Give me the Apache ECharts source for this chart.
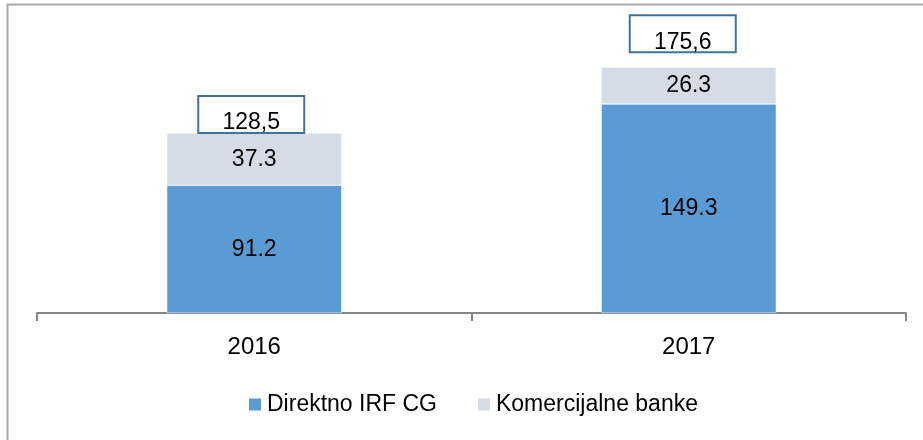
<!DOCTYPE html>
<html>
<head>
<meta charset="utf-8">
<script src="https://cdn.jsdelivr.net/npm/echarts@6/dist/echarts.min.js"></script>
<style>
html,body{margin:0;padding:0;background:#fff;}
#c{width:923px;height:440px;}
</style>
</head>
<body>
<div id="c"></div>
<script>
var categories = ['2016', '2017'];
var direktno = [91.2, 149.3];
var komercijalne = [37.3, 26.3];
var seriesNames = ['Direktno IRF CG', 'Komercijalne banke'];

var totals = categories.map(function (c, i) {
  return Math.round((direktno[i] + komercijalne[i]) * 10) / 10;
});

var FONT = 'Liberation Sans';
var chart = echarts.init(document.getElementById('c'), null, {renderer: 'canvas'});

// manual placement of the total text boxes (pixel shift from bar top)
var boxShift = [[-3, 0], [-6, -15]];

var option = {
  animation: false,
  backgroundColor: '#fff',
  textStyle: {fontFamily: FONT},
  grid: {left: 37, right: 17, top: 33, bottom: 127, containLabel: false},
  xAxis: {
    type: 'category',
    data: categories,
    axisLine: {lineStyle: {color: '#868686', width: 2}},
    axisTick: {show: true, length: 8, lineStyle: {color: '#868686', width: 2}},
    axisLabel: {fontFamily: FONT, fontSize: 24, color: '#000', margin: 22}
  },
  yAxis: {
    type: 'value', min: 0, max: 200, interval: 20,
    show: false, splitLine: {show: false}
  },
  legend: {
    left: 242, top: 388,
    itemWidth: 14, itemHeight: 14, itemGap: 39,
    icon: 'rect',
    textStyle: {fontFamily: FONT, fontSize: 23, color: '#000'},
    data: seriesNames
  },
  graphic: [{
    type: 'rect',
    shape: {x: 7.5, y: 4.5, width: 1000, height: 1000},
    style: {fill: 'none', stroke: '#A9A9A9', lineWidth: 2},
    silent: true, z: -1
  }],
  series: [
    {
      name: seriesNames[0], type: 'bar', stack: 'total', barWidth: 175,
      data: direktno,
      itemStyle: {color: '#5B9BD5', borderColor: '#fff', borderWidth: 0.5},
      label: {show: true, position: 'inside', fontFamily: FONT, fontSize: 23, color: '#000',
        formatter: function (p) { return p.value.toFixed(1); }}
    },
    {
      name: seriesNames[1], type: 'bar', stack: 'total', barWidth: 175,
      data: komercijalne,
      itemStyle: {color: '#D6DCE5', borderColor: '#fff', borderWidth: 0.5},
      label: {show: true, position: 'inside', fontFamily: FONT, fontSize: 23, color: '#000',
        formatter: function (p) { return p.value.toFixed(1); }}
    },
    {
      name: 'total', type: 'custom', silent: true, z: 10, clip: false,
      data: totals.map(function (t, i) { return [i, t]; }),
      renderItem: function (params, api) {
        var i = params.dataIndex;
        var pt = api.coord([api.value(0), api.value(1)]);
        var cx = pt[0] + boxShift[i][0];
        var bottom = pt[1] + boxShift[i][1];
        var w = 106, h = 37;
        return {
          type: 'group',
          children: [
            {
              type: 'rect',
              shape: {x: cx - w / 2, y: bottom - h, width: w, height: h},
              style: {fill: '#fff', stroke: '#41719C', lineWidth: 2}
            },
            {
              type: 'text',
              style: {
                x: cx, y: bottom - 10,
                text: api.value(1).toFixed(1).replace('.', ','),
                font: '23px "' + FONT + '"',
                fill: '#000', align: 'center', verticalAlign: 'middle'
              },
              z2: 5
            }
          ]
        };
      }
    }
  ]
};
chart.setOption(option);
</script>
</body>
</html>
